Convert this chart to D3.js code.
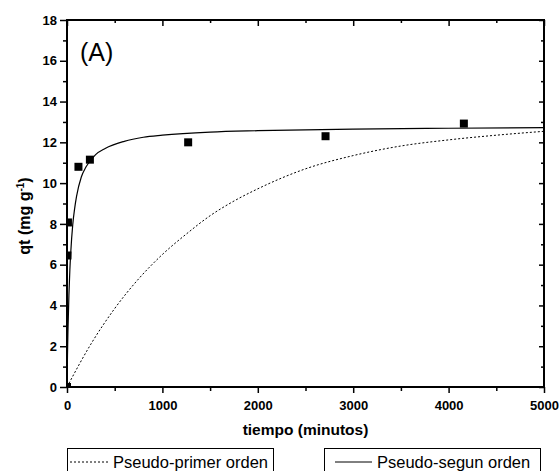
<!DOCTYPE html>
<html>
<head>
<meta charset="utf-8">
<script src="https://cdn.jsdelivr.net/npm/d3@7"></script>
<style>
  body { margin: 0; background: #fff; }
  svg { font-family: "Liberation Sans", Arial, sans-serif; }
  .axis text { font-size: 13px; font-weight: bold; fill: #000; }
  .axis line { stroke: #000; stroke-width: 1.5; }
  .axis path { display: none; }
</style>
</head>
<body>
<div id="chart"></div>
<script>
// experimental points (tiempo, qt)
const tExp = [0, 5, 10, 120, 240, 1270, 2710, 4160];
const qExp = [0, 6.45, 8.07, 10.8, 11.15, 12.0, 12.3, 12.92];

// pseudo-segundo orden curve
const tSeg = [0, 5, 10, 20, 30, 40, 60, 80, 100, 150, 200, 300, 400, 600, 800, 1000, 1500, 2000, 3000, 4000, 5000];
const qSeg = [0, 1.55, 2.75, 4.5, 5.75, 6.65, 7.95, 8.75, 9.35, 10.3, 10.8, 11.4, 11.7, 12.05, 12.25, 12.35, 12.5, 12.57, 12.65, 12.69, 12.72];

// pseudo-primer orden curve
const tPri = [0, 250, 500, 750, 1000, 1250, 1500, 1750, 2000, 2500, 3000, 3500, 4000, 4500, 5000];
const qPri = [0, 2.1, 3.85, 5.3, 6.5, 7.5, 8.4, 9.12, 9.72, 10.7, 11.35, 11.82, 12.12, 12.35, 12.54];

const xMajor = [0, 1000, 2000, 3000, 4000, 5000];
const xMinor = [500, 1500, 2500, 3500, 4500];
const yMajor = [0, 2, 4, 6, 8, 10, 12, 14, 16, 18];
const yMinor = [1, 3, 5, 7, 9, 11, 13, 15, 17];

const width = 559, height = 471;
const margin = { top: 20, right: 15, bottom: 84, left: 67 };
const pw = width - margin.left - margin.right;
const ph = height - margin.top - margin.bottom;

const svg = d3.select("#chart").append("svg")
    .attr("width", width)
    .attr("height", height);

const x = d3.scaleLinear().domain([0, 5000]).range([0, pw]);
const y = d3.scaleLinear().domain([0, 18]).range([ph, 0]);

const plot = svg.append("g")
    .attr("transform", `translate(${margin.left},${margin.top})`);

plot.append("defs").append("clipPath").attr("id", "clip")
  .append("rect").attr("width", pw).attr("height", ph);

// bottom axis (outward ticks)
plot.append("g").attr("class", "axis")
    .attr("transform", `translate(0,${ph})`)
    .call(d3.axisBottom(x).tickValues(xMajor).tickSize(6).tickSizeOuter(0).tickPadding(8).tickFormat(d3.format("d")));
plot.append("g").attr("class", "axis")
    .attr("transform", `translate(0,${ph})`)
    .call(d3.axisBottom(x).tickValues(xMinor).tickSize(4).tickSizeOuter(0).tickFormat(""));

// left axis (outward ticks)
plot.append("g").attr("class", "axis")
    .call(d3.axisLeft(y).tickValues(yMajor).tickSize(7).tickSizeOuter(0).tickPadding(3));
plot.append("g").attr("class", "axis")
    .call(d3.axisLeft(y).tickValues(yMinor).tickSize(4).tickSizeOuter(0).tickFormat(""));

// top axis (ticks pointing into the plot)
plot.append("g").attr("class", "axis")
    .call(d3.axisBottom(x).tickValues(xMajor).tickSize(6).tickSizeOuter(0).tickFormat(""));
plot.append("g").attr("class", "axis")
    .call(d3.axisBottom(x).tickValues(xMinor).tickSize(3).tickSizeOuter(0).tickFormat(""));

// right axis (ticks pointing into the plot)
plot.append("g").attr("class", "axis")
    .attr("transform", `translate(${pw},0)`)
    .call(d3.axisLeft(y).tickValues(yMajor).tickSize(5).tickSizeOuter(0).tickFormat(""));
plot.append("g").attr("class", "axis")
    .attr("transform", `translate(${pw},0)`)
    .call(d3.axisLeft(y).tickValues(yMinor).tickSize(3).tickSizeOuter(0).tickFormat(""));

// curves
const line = d3.line()
    .x(d => x(d[0]))
    .y(d => y(d[1]))
    .curve(d3.curveMonotoneX);

const curves = plot.append("g").attr("clip-path", "url(#clip)");

curves.append("path")
    .datum(d3.zip(tPri, qPri))
    .attr("d", line)
    .attr("fill", "none")
    .attr("stroke", "#000")
    .attr("stroke-width", 1)
    .attr("stroke-dasharray", "2,2");

curves.append("path")
    .datum(d3.zip(tSeg, qSeg))
    .attr("d", line)
    .attr("fill", "none")
    .attr("stroke", "#000")
    .attr("stroke-width", 1.2);

// squares
const sq = 8;
curves.selectAll(".pt")
    .data(d3.zip(tExp, qExp))
  .enter().append("rect")
    .attr("class", "pt")
    .attr("x", d => x(d[0]) - sq / 2)
    .attr("y", d => y(d[1]) - sq / 2)
    .attr("width", sq)
    .attr("height", sq)
    .attr("fill", "#000");

// frame
plot.append("rect")
    .attr("width", pw)
    .attr("height", ph)
    .attr("fill", "none")
    .attr("stroke", "#000")
    .attr("stroke-width", 2);

// panel label
plot.append("text")
    .attr("x", 13)
    .attr("y", 41)
    .style("font-size", "25px")
    .text("(A)");

// axis titles
svg.append("text")
    .attr("x", margin.left + pw / 2)
    .attr("y", 435)
    .attr("text-anchor", "middle")
    .style("font-size", "15.5px")
    .style("font-weight", "bold")
    .text("tiempo (minutos)");

const yl = svg.append("text")
    .attr("transform", "translate(30,216) rotate(-90)")
    .attr("text-anchor", "middle")
    .style("font-size", "16px")
    .style("font-weight", "bold");
yl.append("tspan").text("qt (mg g");
yl.append("tspan").attr("dy", -6).style("font-size", "10px").text("-1");
yl.append("tspan").attr("dy", 6).text(")");

// legend boxes
const legends = [
  { x: 67, w: 206, dash: "2,2", x1: 70, x2: 108, label: "Pseudo-primer orden" },
  { x: 324, w: 216, dash: null, x1: 335, x2: 372, label: "Pseudo-segun orden" }
];
legends.forEach(l => {
  const g = svg.append("g");
  g.append("rect")
    .attr("x", l.x + 0.5).attr("y", 448.5)
    .attr("width", l.w).attr("height", 40)
    .attr("fill", "none").attr("stroke", "#000").attr("stroke-width", 1);
  g.append("line")
    .attr("x1", l.x1).attr("x2", l.x2)
    .attr("y1", 462).attr("y2", 462)
    .attr("stroke", "#000").attr("stroke-width", 1)
    .attr("stroke-dasharray", l.dash);
  g.append("text")
    .attr("x", l.x2 + 5).attr("y", 468)
    .style("font-size", "16.5px")
    .text(l.label);
});
</script>
</body>
</html>
